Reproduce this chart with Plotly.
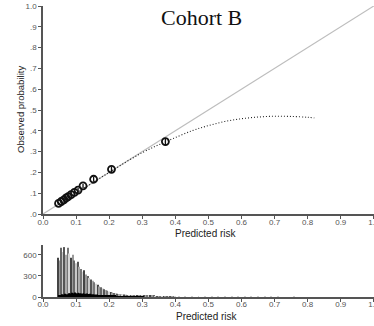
import plotly.graph_objects as go

# ---- data ----
# Calibration groups (predicted risk, observed probability, half CI)
grp_pred = [0.047, 0.055, 0.063, 0.070, 0.076, 0.085, 0.095, 0.106, 0.121, 0.153, 0.207, 0.370]
grp_obs  = [0.051, 0.060, 0.068, 0.077, 0.083, 0.093, 0.104, 0.115, 0.135, 0.167, 0.215, 0.348]
grp_err  = [0.008, 0.008, 0.008, 0.008, 0.008, 0.009, 0.009, 0.010, 0.010, 0.012, 0.014, 0.018]

# Smoothed calibration curve
curve_x = [0.04, 0.10, 0.20, 0.30, 0.375, 0.45, 0.50, 0.55, 0.60, 0.65, 0.70, 0.75, 0.80, 0.82]
curve_y = [0.04, 0.10, 0.20, 0.295, 0.35, 0.400, 0.425, 0.445, 0.458, 0.466, 0.470, 0.469, 0.465, 0.462]

# Histogram of predicted risk (non-events), bins of 0.005 starting at 0.045
hist_x = [round(0.045 + 0.005 * i, 3) for i in range(0, 72)]
hist_n = [560, 520, 700, 640, 710, 600, 700, 620, 560, 600,
          520, 480, 500, 430, 400, 360, 380, 320, 300, 270,
          250, 230, 210, 190, 175, 150, 140, 120, 110, 100,
          90, 80, 72, 65, 58, 52, 48, 44, 40, 38,
          35, 32, 30, 28, 27, 25, 24, 23, 22, 21,
          20, 19, 18, 18, 17, 16, 16, 15, 15, 14,
          14, 13, 13, 12, 12, 12, 11, 11, 11, 10,
          10, 10]
# Sparse tail
tail_x = [0.41, 0.43, 0.45, 0.47, 0.49, 0.51, 0.53, 0.55, 0.57, 0.59, 0.61, 0.63, 0.65, 0.67, 0.69, 0.71, 0.76]
tail_n = [12, 11, 10, 10, 9, 9, 8, 8, 7, 7, 6, 6, 5, 5, 4, 4, 3]
# Events
ev_x = [round(0.0475 + 0.005 * i, 4) for i in range(0, 52)]
ev_n = [15, 20, 40, 35, 45, 40, 55, 50, 60, 55,
        65, 55, 60, 55, 50, 55, 45, 50, 42, 45,
        38, 40, 34, 35, 30, 28, 26, 24, 22, 20,
        19, 18, 17, 16, 15, 14, 14, 13, 12, 12,
        11, 11, 10, 10, 9, 9, 9, 8, 8, 8, 7, 7]

x_ticks = [0.0, 0.1, 0.2, 0.3, 0.4, 0.5, 0.6, 0.7, 0.8, 0.9, 1.0]
x_ticktext = ["0.0", "0.1", "0.2", "0.3", "0.4", "0.5", "0.6", "0.7", "0.8", "0.9", "1.0"]
y_ticks = [0.0, 0.1, 0.2, 0.3, 0.4, 0.5, 0.6, 0.7, 0.8, 0.9, 1.0]
y_ticktext = [".0", ".1", ".2", ".3", ".4", ".5", ".6", ".7", ".8", ".9", "1.0"]
h_ticks = [0, 300, 600]

# ---- figure ----
W, H = 374, 326
L, R = 43, 0

def py(Y):
    return 1 - Y / H

def px(X):
    return (X - L) / (W - L - R)

fig = go.Figure()

fig.add_trace(go.Scatter(x=[0, 1], y=[0, 1], mode="lines",
                         line=dict(color="#bdbdbd", width=1.2),
                         xaxis="x", yaxis="y", hoverinfo="skip"))
fig.add_trace(go.Scatter(x=curve_x, y=curve_y, mode="lines", line_shape="spline",
                         line=dict(color="#222", width=1.1, dash="1px,2px"),
                         xaxis="x", yaxis="y"))
fig.add_trace(go.Scatter(x=grp_pred, y=grp_obs, mode="markers",
                         marker=dict(symbol="circle-open", size=7, color="#111",
                                     line=dict(width=1.8, color="#111")),
                         error_y=dict(type="data", array=grp_err, color="#111",
                                      thickness=1.3, width=0),
                         xaxis="x", yaxis="y"))

shades = ["#444", "#999", "#666", "#c8c8c8", "#555", "#aaa", "#777", "#d5d5d5"]
fig.add_trace(go.Bar(x=hist_x, y=hist_n, width=0.0032,
                     marker=dict(color=[shades[i % len(shades)] for i in range(len(hist_x))],
                                 line=dict(width=0)),
                     xaxis="x2", yaxis="y2"))
fig.add_trace(go.Bar(x=tail_x, y=tail_n, width=0.003,
                     marker=dict(color="#cfcfcf", line=dict(width=0)),
                     xaxis="x2", yaxis="y2"))
fig.add_trace(go.Bar(x=ev_x, y=ev_n, width=0.0025,
                     marker=dict(color="#000", line=dict(width=0)),
                     xaxis="x2", yaxis="y2"))

axis_common = dict(showline=True, linecolor="#555", linewidth=1.5, showgrid=False,
                   zeroline=False, ticks="outside", ticklen=3, tickcolor="#555",
                   automargin=False,
                   tickfont=dict(family="Liberation Sans, Arial", size=8, color="#555"))

fig.update_layout(
    width=W, height=H, margin=dict(l=L, r=R, t=0, b=0, autoexpand=False),
    plot_bgcolor="white", paper_bgcolor="white", showlegend=False,
    barmode="overlay",
    xaxis=dict(domain=[0, 1], range=[0, 1.0005], anchor="y", tickvals=x_ticks,
               ticktext=x_ticktext, ticklabeloverflow="allow", ticklabelstandoff=-3,
               **axis_common),
    yaxis=dict(domain=[py(214), py(6)], range=[0, 1], anchor="x", tickvals=y_ticks,
               ticktext=y_ticktext, ticklabeloverflow="allow", **axis_common),
    xaxis2=dict(domain=[0, 1], range=[0, 1.0005], anchor="y2", tickvals=x_ticks,
                ticktext=x_ticktext, ticklabeloverflow="allow", ticklabelstandoff=-4,
                **axis_common),
    yaxis2=dict(domain=[py(297), py(245)], range=[0, 740], anchor="x2",
                tickvals=h_ticks, **axis_common),
    annotations=[
        dict(text="Cohort B", x=px(201), y=py(17), xref="paper", yref="paper",
             xanchor="center", yanchor="middle", showarrow=False,
             font=dict(family="Liberation Serif, Times New Roman", size=22, color="#111")),
        dict(text="Predicted risk", x=px(206), y=py(233), xref="paper", yref="paper",
             xanchor="center", yanchor="middle", showarrow=False,
             font=dict(family="Liberation Sans, Arial", size=10, color="#222")),
        dict(text="Predicted risk", x=px(207), y=py(316), xref="paper", yref="paper",
             xanchor="center", yanchor="middle", showarrow=False,
             font=dict(family="Liberation Sans, Arial", size=10, color="#222")),
        dict(text="Observed probability", x=px(20), y=py(110), xref="paper", yref="paper",
             xanchor="center", yanchor="middle", showarrow=False, textangle=-90,
             font=dict(family="Liberation Sans, Arial", size=9.5, color="#222")),
    ],
)

fig.write_html("out.html")
